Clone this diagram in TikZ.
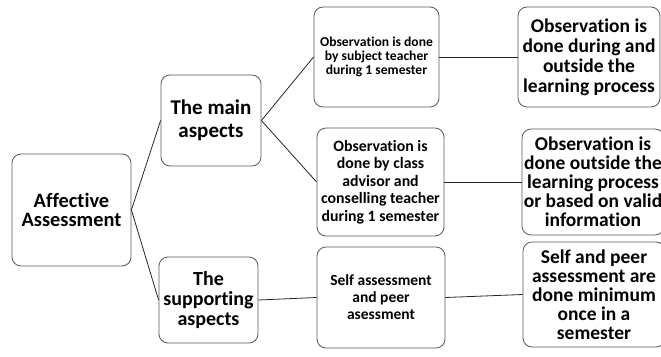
\documentclass[tikz,border=0pt]{standalone}
\usepackage{fontspec}
\setmainfont{Carlito}[Ligatures=NoCommon]
\usepackage{tikz}

\begin{document}
\begin{tikzpicture}[x=1pt,y=-1pt]
\tikzstyle{block}=[rectangle,rounded corners=9pt,draw=black!65,line width=0.8pt,fill=white,align=center,inner sep=0pt]
\tikzstyle{link}=[black!85,line width=0.8pt]
\clip (0,0) rectangle (661,356);
\node [block,minimum width=119pt,minimum height=112pt,font=\bfseries\fontsize{20.4}{19.5}\selectfont] (aff) at (71.5,210) {Affective\\Assessment};
\node [block,minimum width=100pt,minimum height=91pt,font=\bfseries\fontsize{21}{23}\selectfont] (main) at (211,120.5) {The main\\aspects};
\node [block,minimum width=99pt,minimum height=86pt,font=\bfseries\fontsize{20}{20}\selectfont] (supp) at (208.5,300) {The\\supporting\\aspects};
\node [block,minimum width=125pt,minimum height=100pt,font=\bfseries\fontsize{13.6}{14}\selectfont] (obsone) at (376.5,57) {Observation is done\\by subject teacher\\during 1 semester};
\node [block,minimum width=127pt,minimum height=108pt,font=\bfseries\fontsize{15.8}{17.5}\selectfont] (obstwo) at (380.5,182) {Observation is\\done by class\\advisor and\\conselling teacher\\during 1 semester};
\node [block,minimum width=128pt,minimum height=101pt,font=\bfseries\fontsize{15.5}{17}\selectfont] (self) at (381,297.5) {Self assessment\\and peer\\asessment};
\node [block,minimum width=142pt,minimum height=100pt,font=\bfseries\fontsize{19.5}{20}\selectfont] (resone) at (589,57) {Observation is\\done during and\\outside the\\learning process};
\node [block,minimum width=142pt,minimum height=106pt,font=\bfseries\fontsize{19.5}{19}\selectfont] (restwo) at (593,182) {Observation is\\done outside the\\learning process\\or based on valid\\information};
\node [block,minimum width=142pt,minimum height=105pt,font=\bfseries\fontsize{19.5}{19}\selectfont] (resthree) at (594,294.5) {Self and peer\\assessment are\\done minimum\\once in a\\semester};
\draw [link] (aff.east) -- (main.west);
\draw [link] (aff.east) -- (supp.west);
\draw [link] (main.east) -- (obsone.west);
\draw [link] (main.east) -- (obstwo.west);
\draw [link] (supp.east) -- (self.west);
\draw [link] (obsone.east) -- (resone.west);
\draw [link] (obstwo.east) -- (restwo.west);
\draw [link] (self.east) -- (resthree.west);
\end{tikzpicture}
\end{document}
